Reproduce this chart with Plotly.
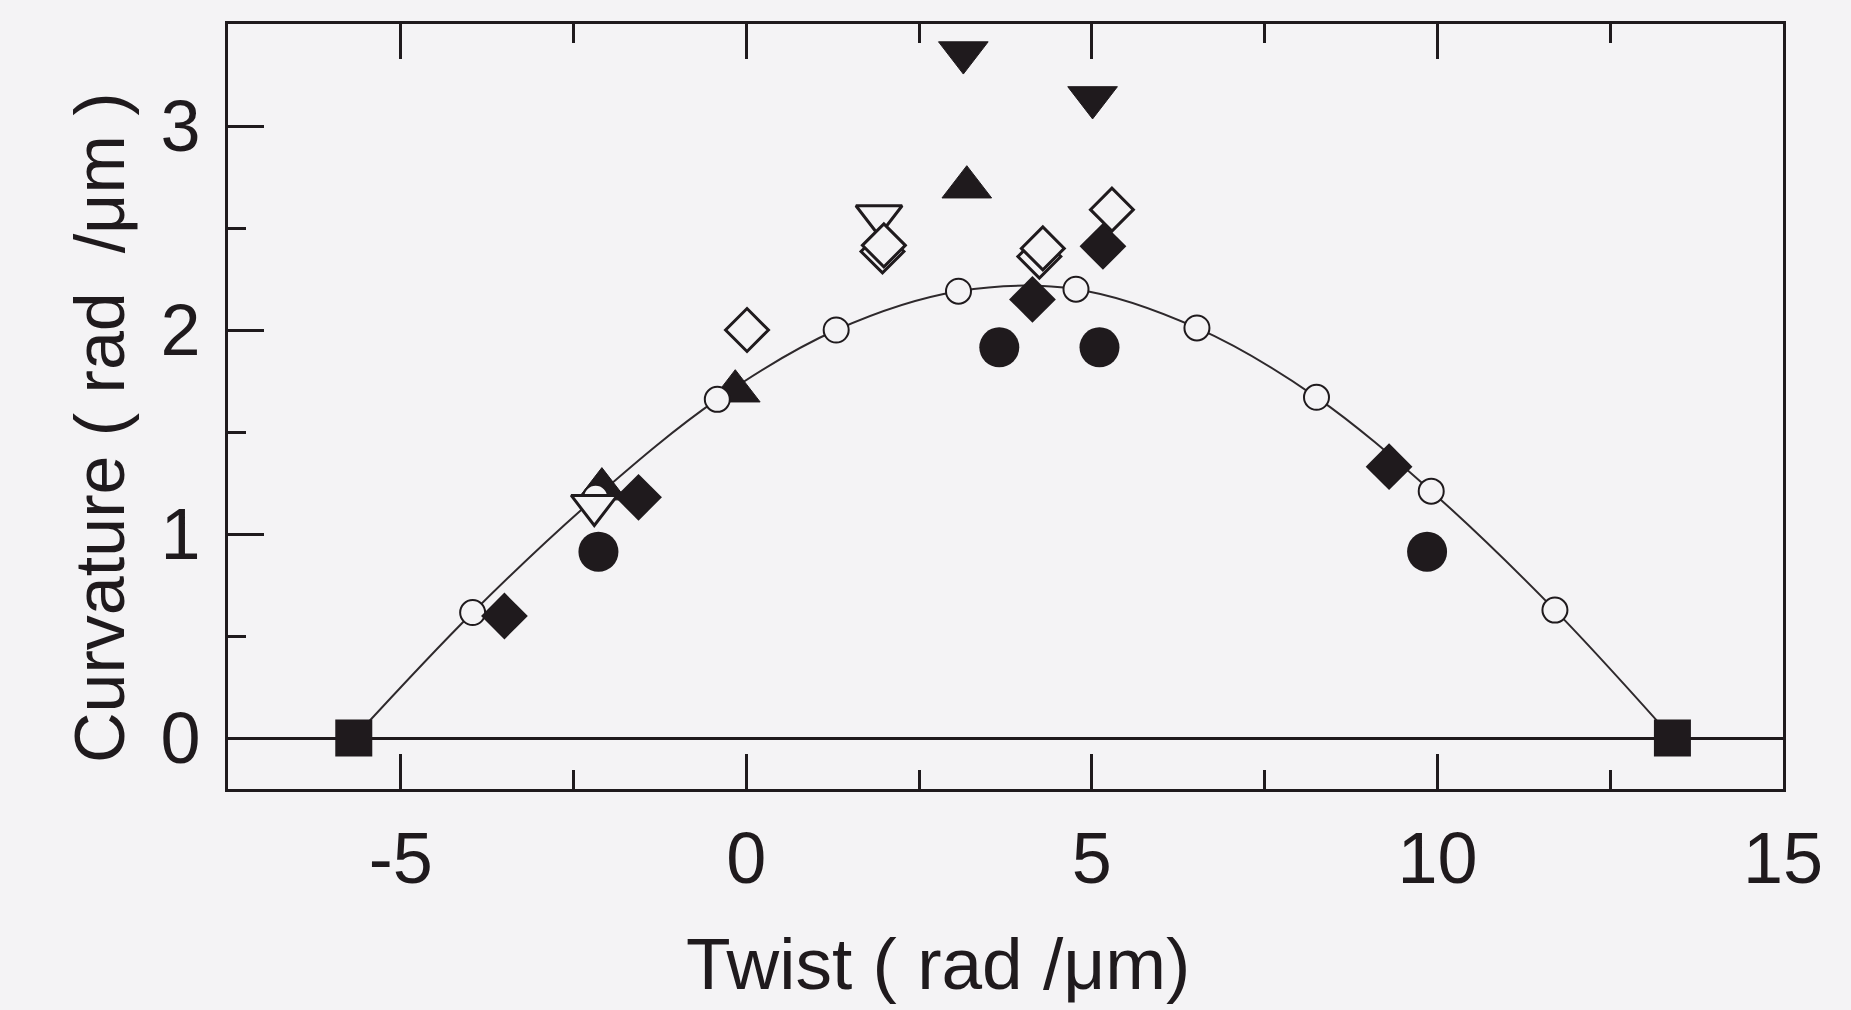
import plotly.graph_objects as go

# ---- data ----
curve_x = [-5.68, -3.96, -2.18, -0.42, 1.30, 3.07, 4.77, 6.52, 8.25, 9.91, 11.70, 13.40]
curve_y = [0.0, 0.615, 1.18, 1.66, 2.00, 2.19, 2.20, 2.01, 1.67, 1.21, 0.627, 0.0]

open_circle_x = [-3.96, -2.18, -0.42, 1.30, 3.07, 4.77, 6.52, 8.25, 9.91, 11.70]
open_circle_y = [0.615, 1.18, 1.66, 2.00, 2.19, 2.20, 2.01, 1.67, 1.21, 0.627]

square_x = [-5.68, 13.40]
square_y = [0.0, 0.0]

filled_circle_x = [-2.14, 3.66, 5.11, 9.85]
filled_circle_y = [0.913, 1.915, 1.915, 0.913]

filled_diamond_x = [-3.50, -1.56, 4.14, 5.16, 9.30]
filled_diamond_y = [0.598, 1.18, 2.15, 2.41, 1.33]

open_diamond_x = [0.01, 1.97, 1.99, 4.24, 4.29, 5.29]
open_diamond_y = [2.00, 2.385, 2.415, 2.36, 2.40, 2.59]

up_tri_x = [-2.09, -0.16, 3.19]
up_tri_y = [1.22, 1.70, 2.70]

down_tri_filled_x = [3.14, 5.01]
down_tri_filled_y = [3.36, 3.14]

down_tri_open_x = [-2.20, 1.92]
down_tri_open_y = [1.14, 2.56]

x_ticks = [-5, 0, 5, 10, 15]
y_ticks = [0, 1, 2, 3]

BG = "#f4f3f5"
INK = "#1f1a1d"
FONT = "Liberation Sans, Arial, sans-serif"

fig = go.Figure()

fig.add_trace(go.Scatter(x=curve_x, y=curve_y, mode="lines",
                         line=dict(color="#2e292c", width=2, shape="spline", smoothing=1.0),
                         hoverinfo="skip", showlegend=False))
fig.add_trace(go.Scatter(x=up_tri_x, y=up_tri_y, mode="markers",
                         marker=dict(symbol="triangle-up", size=43, color=INK, line=dict(color=INK, width=1)),
                         showlegend=False))
fig.add_trace(go.Scatter(x=open_circle_x, y=open_circle_y, mode="markers",
                         marker=dict(symbol="circle", size=25, color=BG, line=dict(color=INK, width=2)),
                         showlegend=False))
fig.add_trace(go.Scatter(x=filled_circle_x, y=filled_circle_y, mode="markers",
                         marker=dict(symbol="circle", size=40, color=INK, line=dict(width=0)),
                         showlegend=False))
fig.add_trace(go.Scatter(x=down_tri_open_x, y=down_tri_open_y, mode="markers",
                         marker=dict(symbol="triangle-down", size=40, color=BG, line=dict(color=INK, width=3)),
                         showlegend=False))
fig.add_trace(go.Scatter(x=filled_diamond_x, y=filled_diamond_y, mode="markers",
                         marker=dict(symbol="diamond", size=36, color=INK, line=dict(width=0)),
                         showlegend=False))
fig.add_trace(go.Scatter(x=open_diamond_x, y=open_diamond_y, mode="markers",
                         marker=dict(symbol="diamond", size=33, color=BG, line=dict(color=INK, width=3)),
                         showlegend=False))
fig.add_trace(go.Scatter(x=down_tri_filled_x, y=down_tri_filled_y, mode="markers",
                         marker=dict(symbol="triangle-down", size=43, color=INK, line=dict(color=INK, width=1)),
                         showlegend=False))
fig.add_trace(go.Scatter(x=square_x, y=square_y, mode="markers",
                         marker=dict(symbol="square", size=37, color=INK, line=dict(width=0)),
                         showlegend=False, cliponaxis=False))

fig.update_layout(
    width=1851, height=1010,
    margin=dict(l=228, r=68, t=24, b=221),
    paper_bgcolor=BG, plot_bgcolor=BG,
    font=dict(family=FONT, size=72, color=INK),
    showlegend=False,
    xaxis=dict(range=[-7.5, 15], tickvals=x_ticks, ticktext=[str(v) for v in x_ticks],
               ticks="inside", ticklen=35, tickwidth=3, tickcolor=INK,
               minor=dict(dtick=2.5, tick0=0, ticks="inside", ticklen=19, tickwidth=3, tickcolor=INK),
               showline=True, linewidth=3, linecolor=INK, mirror="ticks",
               showgrid=False, zeroline=False, ticklabelstandoff=5,
               tickfont=dict(size=72, color=INK, family=FONT)),
    yaxis=dict(range=[-0.25, 3.5], tickvals=y_ticks, ticktext=[str(v) for v in y_ticks],
               ticks="inside", ticklen=36, tickwidth=3, tickcolor=INK,
               minor=dict(dtick=0.5, tick0=0, ticks="inside", ticklen=18, tickwidth=3, tickcolor=INK),
               showline=True, linewidth=3, linecolor=INK, mirror=True,
               showgrid=False, zeroline=True, zerolinecolor=INK, zerolinewidth=3,
               ticklabelstandoff=10,
               tickfont=dict(size=72, color=INK, family=FONT)),
    annotations=[
        dict(text="Twist ( rad /μm)", xref="paper", yref="paper", x=0.4566, y=-0.228,
             xanchor="center", yanchor="middle", showarrow=False,
             font=dict(size=73, color=INK, family=FONT)),
        dict(text="Curvature ( rad  /μm )", xref="paper", yref="paper", x=-0.0823, y=0.472,
             xanchor="center", yanchor="middle", showarrow=False, textangle=-90,
             font=dict(size=70, color=INK, family=FONT)),
    ],
)

fig.write_html("out.html")
